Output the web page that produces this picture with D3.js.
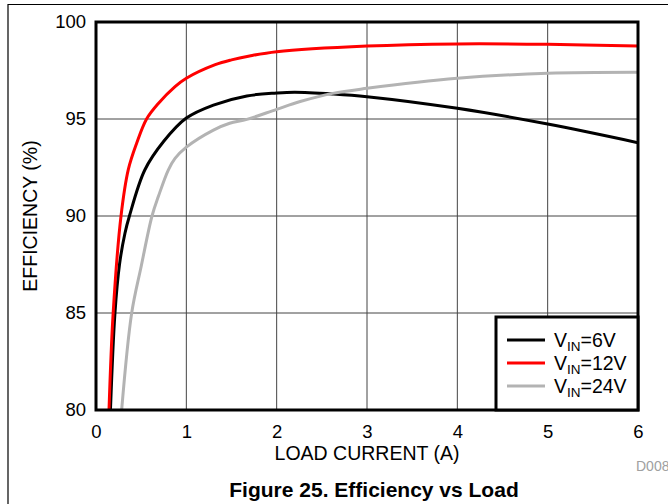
<!DOCTYPE html>
<html>
<head>
<meta charset="utf-8">
<script src="https://cdn.jsdelivr.net/npm/d3@7"></script>
<style>
  body { margin: 0; background: #fff; }
  text { font-family: "Liberation Sans", Arial, sans-serif; }
</style>
</head>
<body>
<svg id="chart" width="668" height="504"></svg>
<script>

// load current (A) and efficiency (%) per input voltage
var vin6X  = [ 0.16, 0.21, 0.26, 0.32, 0.37, 0.54, 0.75, 1.0, 1.3, 1.67, 2.0, 2.2, 2.62, 3.0, 4.0, 5.0, 6.0 ];
var vin6Y  = [ 80, 85, 87.5, 89.1, 90, 92.37, 93.85, 95.05, 95.72, 96.19, 96.34, 96.38, 96.29, 96.15, 95.55, 94.74, 93.78 ];

var vin12X = [ 0.144, 0.19, 0.277, 0.358, 0.45, 0.56, 0.69, 0.875, 1.0, 1.32, 1.5, 1.7, 2.0, 3.0, 4.0, 5.0, 6.0 ];
var vin12Y = [ 80, 85, 90, 92.4, 93.75, 95, 95.8, 96.67, 97.1, 97.8, 98.05, 98.25, 98.47, 98.76, 98.87, 98.85, 98.76 ];

var vin24X = [ 0.284, 0.395, 0.5, 0.62, 0.69, 0.8, 0.875, 1.0, 1.3, 1.48, 1.67, 2.0, 2.26, 2.62, 3.0, 4.0, 5.0, 6.0 ];
var vin24Y = [ 80, 85, 87.4, 90, 91.0, 92.37, 92.97, 93.55, 94.43, 94.78, 94.98, 95.5, 95.9, 96.32, 96.58, 97.1, 97.36, 97.41 ];

var xTicks = [ 0, 1, 2, 3, 4, 5, 6 ];
var yTicks = [ 80, 85, 90, 95, 100 ];

var seriesNames  = [ '6V', '12V', '24V' ];
var seriesColors = [ '#000000', '#ff0000', '#b3b3b3' ];

var svg = d3.select('#chart');

var plotLeft = 96, plotRight = 638, plotTop = 22, plotBottom = 410;

var x = d3.scaleLinear().domain([ 0, 6 ]).range([ plotLeft, plotRight ]);
var y = d3.scaleLinear().domain([ 80, 100 ]).range([ plotBottom, plotTop ]);

// outer frame of the figure
svg.append('path')
    .attr('d', 'M8,504 L8,4.5 L668,4.5')
    .attr('fill', 'none')
    .attr('stroke', '#000')
    .attr('stroke-width', 1.2);

// grid
svg.append('g')
    .selectAll('line')
    .data( xTicks.slice( 1, -1 ) )
    .enter().append('line')
    .attr('x1', function ( d ) { return x( d ); })
    .attr('x2', function ( d ) { return x( d ); })
    .attr('y1', plotTop)
    .attr('y2', plotBottom)
    .attr('stroke', '#444')
    .attr('stroke-width', 1);

svg.append('g')
    .selectAll('line')
    .data( yTicks.slice( 1, -1 ) )
    .enter().append('line')
    .attr('x1', plotLeft)
    .attr('x2', plotRight)
    .attr('y1', function ( d ) { return y( d ); })
    .attr('y2', function ( d ) { return y( d ); })
    .attr('stroke', '#444')
    .attr('stroke-width', 1);

// curves
var line = d3.line()
    .x( function ( d ) { return x( d[ 0 ] ); })
    .y( function ( d ) { return y( d[ 1 ] ); })
    .curve( d3.curveCatmullRom.alpha( 0.5 ) );

var series = [
    d3.zip( vin6X, vin6Y ),
    d3.zip( vin12X, vin12Y ),
    d3.zip( vin24X, vin24Y )
];

svg.append('defs').append('clipPath')
    .attr('id', 'plotClip')
    .append('rect')
    .attr('x', plotLeft).attr('y', plotTop)
    .attr('width', plotRight - plotLeft).attr('height', plotBottom - plotTop);

svg.append('g')
    .attr('clip-path', 'url(#plotClip)')
    .selectAll('path')
    .data( series )
    .enter().append('path')
    .attr('d', line)
    .attr('fill', 'none')
    .attr('stroke', function ( d, i ) { return seriesColors[ i ]; })
    .attr('stroke-width', 3);

// axes (labels only, frame drawn separately)
var xAxis = svg.append('g')
    .attr('transform', 'translate(0,' + plotBottom + ')')
    .call( d3.axisBottom( x ).tickValues( xTicks ).tickFormat( d3.format('d') ).tickSize( 0 ).tickPadding( 15 ) );

var yAxis = svg.append('g')
    .attr('transform', 'translate(' + plotLeft + ',0)')
    .call( d3.axisLeft( y ).tickValues( yTicks ).tickFormat( d3.format('d') ).tickSize( 0 ).tickPadding( 10 ) );

[ xAxis, yAxis ].forEach( function ( a ) {
    a.select('.domain').remove();
    a.selectAll('text')
        .attr('font-family', '"Liberation Sans", Arial, sans-serif')
        .attr('font-size', 18.5)
        .attr('fill', '#000');
});

// plot frame
svg.append('rect')
    .attr('x', plotLeft).attr('y', plotTop)
    .attr('width', plotRight - plotLeft).attr('height', plotBottom - plotTop)
    .attr('fill', 'none')
    .attr('stroke', '#000')
    .attr('stroke-width', 3);

// legend
var legend = svg.append('g');

legend.append('rect')
    .attr('x', 496).attr('y', 317)
    .attr('width', 142).attr('height', 93)
    .attr('fill', '#fff')
    .attr('stroke', '#000')
    .attr('stroke-width', 3);

var items = legend.selectAll('.item')
    .data( seriesNames )
    .enter().append('g')
    .attr('class', 'item')
    .attr('transform', function ( d, i ) { return 'translate(0,' + ( 340 + i * 23 ) + ')'; });

items.append('line')
    .attr('x1', 507).attr('x2', 545)
    .attr('y1', 0).attr('y2', 0)
    .attr('stroke', function ( d, i ) { return seriesColors[ i ]; })
    .attr('stroke-width', 3);

var labels = items.append('text')
    .attr('x', 554)
    .attr('y', 7)
    .attr('font-size', 19.5)
    .attr('fill', '#000');

labels.append('tspan').text('V');
labels.append('tspan').attr('font-size', 13.5).attr('dy', 4).text('IN');
labels.append('tspan').attr('dy', -4).text( function ( d ) { return '=' + d; });

// titles
svg.append('text')
    .attr('x', ( plotLeft + plotRight ) / 2)
    .attr('y', 460)
    .attr('text-anchor', 'middle')
    .attr('font-size', 19.5)
    .text('LOAD CURRENT (A)');

svg.append('text')
    .attr('transform', 'translate(37,' + ( ( plotTop + plotBottom ) / 2 ) + ') rotate(-90)')
    .attr('text-anchor', 'middle')
    .attr('font-size', 19.5)
    .text('EFFICIENCY (%)');

svg.append('text')
    .attr('x', 636)
    .attr('y', 471)
    .attr('font-size', 14)
    .attr('fill', '#a0a0a0')
    .text('D008');

svg.append('text')
    .attr('x', 374)
    .attr('y', 497)
    .attr('text-anchor', 'middle')
    .attr('font-size', 21)
    .attr('font-weight', 'bold')
    .text('Figure 25. Efficiency vs Load');

</script>
</body>
</html>
